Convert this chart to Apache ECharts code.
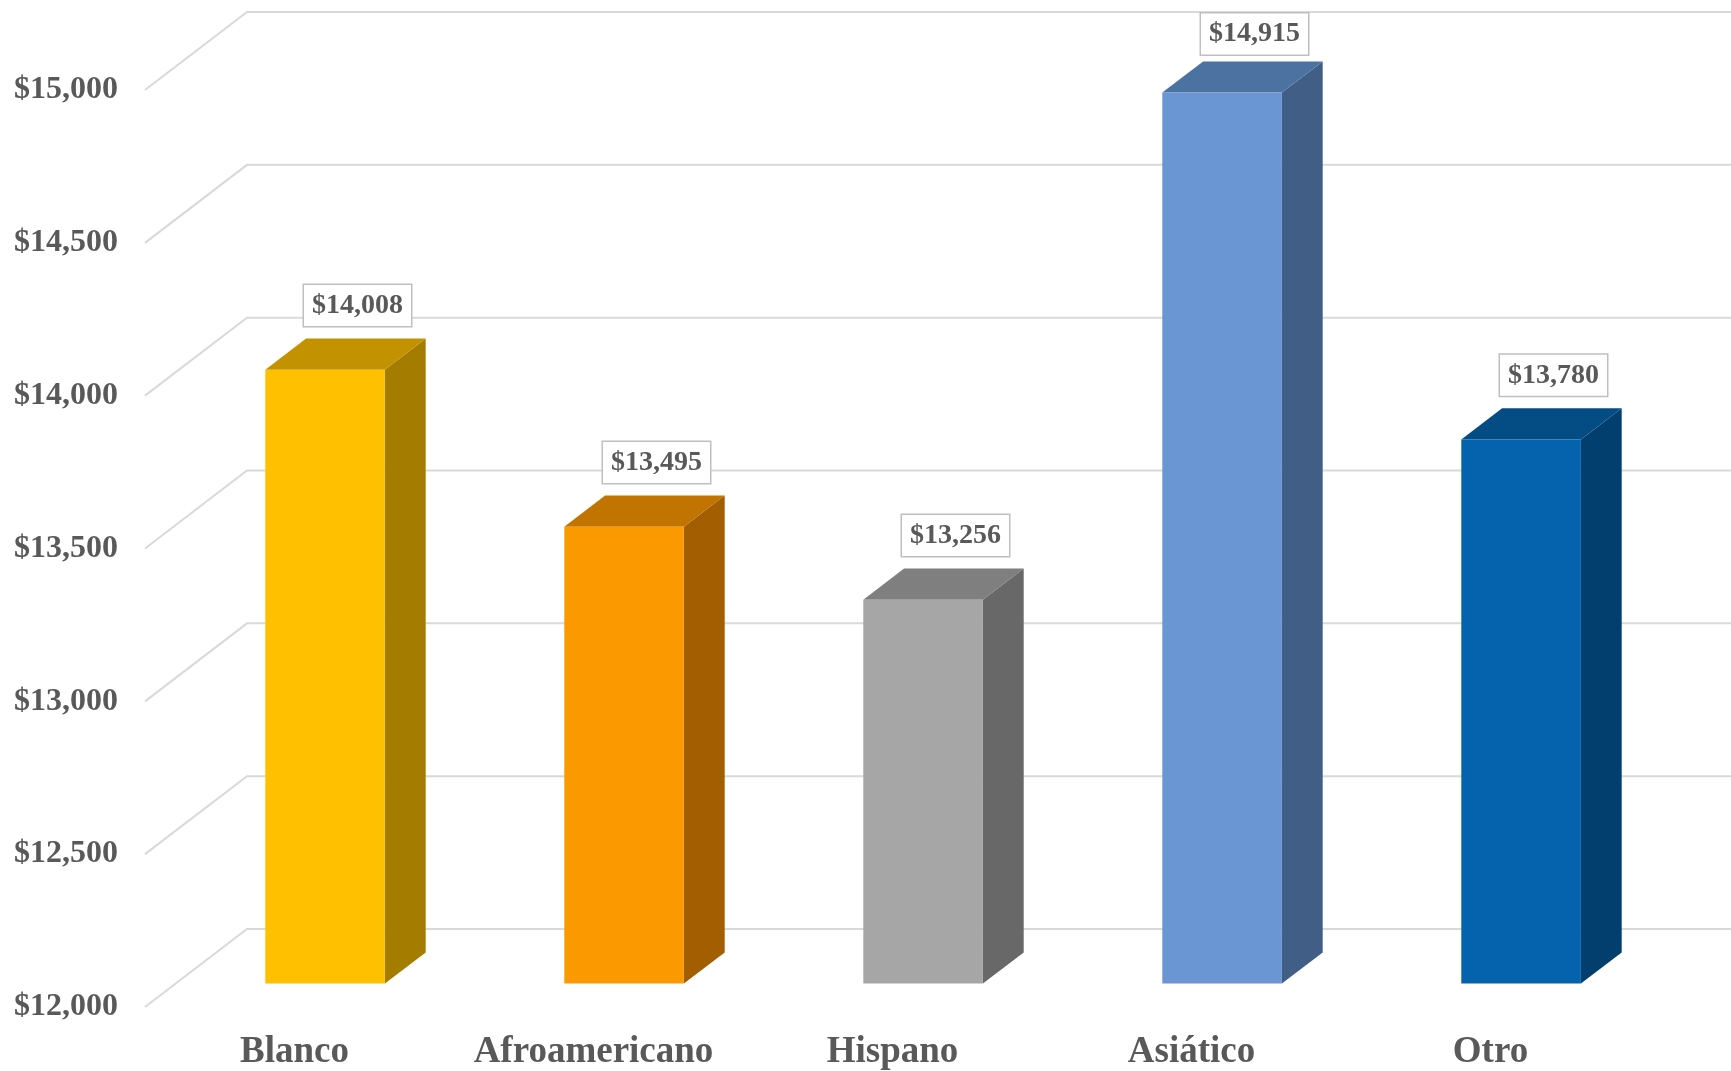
<!DOCTYPE html>
<html>
<head>
<meta charset="utf-8">
<script src="https://cdn.jsdelivr.net/npm/echarts@6/dist/echarts.min.js"></script>
<style>
html,body{margin:0;padding:0;background:#fff;}
#chart{width:1731px;height:1071px;}
</style>
</head>
<body>
<div id="chart"></div>
<script>
// ---- data ----
const categories = ['Blanco', 'Afroamericano', 'Hispano', 'Asiático', 'Otro'];
const values = [14008, 13495, 13256, 14915, 13780];
const yTicks = [12000, 12500, 13000, 13500, 14000, 14500, 15000];

// ---- styles ----
const frontColors = ['#FFC000', '#FB9900', '#A6A6A6', '#6A96D4', '#0563AE'];
const topColors   = ['#C39200', '#C17400', '#7F7F7F', '#4C72A1', '#044C84'];
const sideColors  = ['#A47C00', '#A25E00', '#686868', '#415E86', '#033F6E'];
const TEXT = '#595959';
const FONT = "'Liberation Serif','Times New Roman',serif";
const DX = 102, DY = -78;          // floor depth projection
const DF = 0.3, DB = 0.7;          // bar front/back depth fraction
const Y_MIN = yTicks[0], Y_MAX = yTicks[yTicks.length - 1];
const fmt = v => '$' + Number(v).toLocaleString('en-US');

const chart = echarts.init(document.getElementById('chart'));

chart.setOption({
  animation: false,
  backgroundColor: '#fff',
  grid: { left: 145, right: 91, top: 90, bottom: 54 },
  xAxis: {
    type: 'category',
    data: categories,
    axisLine: { show: false },
    axisTick: { show: false },
    axisLabel: { interval: 0, fontFamily: FONT, fontWeight: 'bold', fontSize: 37, color: TEXT, margin: 27 }
  },
  yAxis: {
    type: 'value',
    min: Y_MIN, max: Y_MAX, interval: 500,
    splitLine: { show: false },
    axisLine: { show: false },
    axisTick: { show: false },
    axisLabel: { fontFamily: FONT, fontWeight: 'bold', fontSize: 32, color: TEXT, margin: 27, formatter: fmt }
  },
  series: [
    {
      type: 'custom',
      silent: true,
      z: 1,
      clip: false,
      data: yTicks.map(v => [0, v]),
      renderItem: function (params, api) {
        const y = api.coord([0, api.value(1)])[1];
        const cs = params.coordSys;
        return {
          type: 'polyline',
          shape: { points: [[cs.x, y], [cs.x + DX, y + DY], [cs.x + cs.width + DX, y + DY]] },
          style: { stroke: '#D9D9D9', lineWidth: 2, fill: null }
        };
      }
    },
    {
      type: 'custom',
      silent: true,
      z: 2,
      clip: false,
      data: values.map((v, i) => [i, v]),
      renderItem: function (params, api) {
        const i = api.value(0), v = api.value(1);
        const top = api.coord([i, v]);
        const base = api.coord([i, Y_MIN]);
        const bw = api.size([1, 0])[0] * 0.4;
        const x0 = top[0] - bw / 2, x1 = top[0] + bw / 2;
        const fx = DX * DF, fy = DY * DF, bx = DX * DB, by = DY * DB;
        const backTop = top[1] + by;
        let ly = backTop - 33;
        if (ly - 20 < 14) ly = 34;
        return {
          type: 'group',
          children: [
            {
              type: 'polygon',
              shape: { points: [[x1 + fx, top[1] + fy], [x1 + bx, top[1] + by], [x1 + bx, base[1] + by], [x1 + fx, base[1] + fy]] },
              style: { fill: sideColors[i] }
            },
            {
              type: 'polygon',
              shape: { points: [[x0 + fx, top[1] + fy], [x1 + fx, top[1] + fy], [x1 + bx, top[1] + by], [x0 + bx, top[1] + by]] },
              style: { fill: topColors[i] }
            },
            {
              type: 'rect',
              shape: { x: x0 + fx, y: top[1] + fy, width: bw, height: base[1] - top[1] },
              style: { fill: frontColors[i] }
            },
            {
              type: 'text',
              x: top[0] + 63,
              y: ly,
              style: {
                text: fmt(v),
                fontFamily: FONT, fontWeight: 'bold', fontSize: 28,
                fill: TEXT,
                align: 'center', verticalAlign: 'middle',
                lineHeight: 29,
                backgroundColor: '#fff',
                borderColor: '#BFBFBF', borderWidth: 1.5,
                padding: [6, 8]
              }
            }
          ]
        };
      }
    }
  ]
});
</script>
</body>
</html>
